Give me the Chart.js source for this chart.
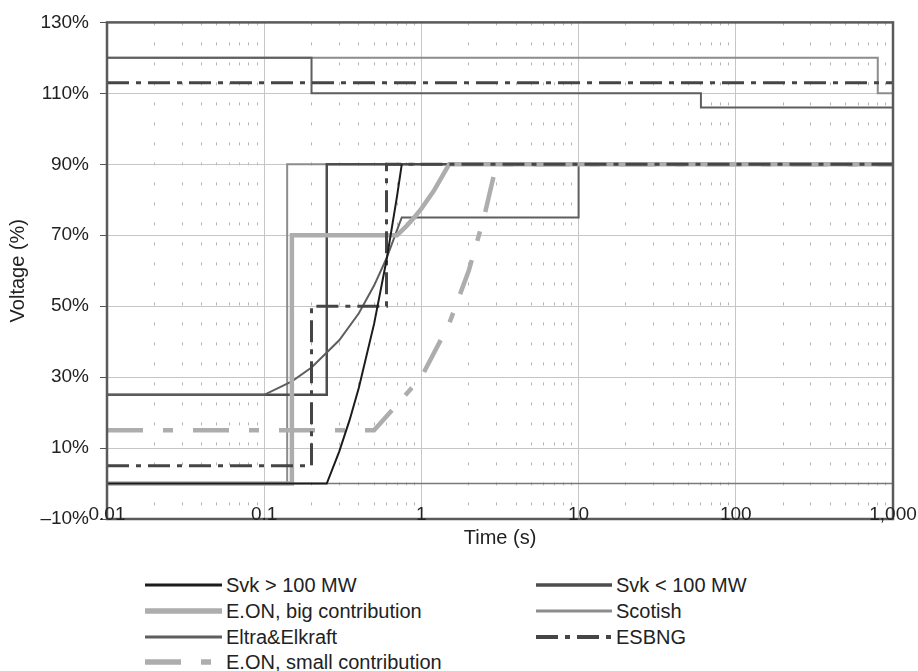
<!DOCTYPE html>
<html>
<head>
<meta charset="utf-8">
<script src="https://cdn.jsdelivr.net/npm/chart.js@4"></script>
<style>
  body { margin: 0; background: #fff; }
  #wrap { position: relative; width: 918px; height: 671px; font-family: "Liberation Sans", Arial, sans-serif; color: #222; }
  #chart { position: absolute; left: 0; top: 0; }
  .item { position: absolute; height: 24px; line-height: 24px; font-size: 20px; white-space: nowrap; }
  .item svg { position: absolute; top: 0; }
  .item span { position: absolute; top: 0; }
</style>
</head>
<body>
<div id="wrap">
  <canvas id="chart" width="918" height="560"></canvas>
  <div id="legend"></div>
</div>
<script>
// axis ticks
const decades = [0.01, 0.1, 1, 10, 100, 1000];
const decadeLabels = ["0.01", "0.1", "1", "10", "100", "1,000"];
const yTicks = [-10, 10, 30, 50, 70, 90, 110, 130];

// Svk > 100 MW
const svkHighT = [0.01, 0.25, 0.3, 0.35, 0.4, 0.5, 0.6, 0.7, 0.75];
const svkHighV = [0, 0, 9, 18, 27, 45, 63, 81, 90];

// Svk < 100 MW
const svkLowT = [0.01, 0.25, 0.25, 1000];
const svkLowV = [25, 25, 90, 90];

// E.ON, big contribution
const eonBigT = [0.01, 0.15, 0.15, 0.7, 0.8, 0.9, 1.0, 1.2, 1.5, 1000];
const eonBigV = [0, 0, 70, 70, 72.5, 75, 77.5, 82.5, 90, 90];

// Scotish
const scotLowT = [0.01, 0.14, 0.14, 1000];
const scotLowV = [0, 0, 90, 90];
const scotHighT = [0.01, 800, 800, 1000];
const scotHighV = [120, 120, 110, 110];

// Eltra&Elkraft
const eltraLowT = [0.01, 0.1, 0.15, 0.2, 0.3, 0.4, 0.5, 0.6, 0.75, 10, 10, 1000];
const eltraLowV = [25, 25, 28.8, 32.7, 40.4, 48, 55.8, 63.5, 75, 75, 90, 90];
const eltraHighT = [0.01, 0.2, 0.2, 60, 60, 1000];
const eltraHighV = [120, 120, 110, 110, 106, 106];

// ESBNG
const esbLowT = [0.01, 0.2, 0.2, 0.6, 0.6, 1000];
const esbLowV = [5, 5, 50, 50, 90, 90];
const esbHighT = [0.01, 1000];
const esbHighV = [113, 113];

// E.ON, small contribution
const eonSmallT = [0.01, 0.5, 1, 1.5, 2, 2.5, 3, 1000];
const eonSmallV = [15, 15, 30, 45, 60, 75, 90, 90];

const pts = (t, v) => t.map((x, i) => ({ x: x, y: v[i] }));

const styles = {
    svkHigh: { color: "#1c1c1c", width: 2, dash: [], order: 0 },
    esb: { color: "#454545", width: 3, dash: [22, 7, 5, 7], order: 1 },
    eonSmall: { color: "#adadad", width: 4.5, dash: [36, 20, 10, 20], order: 2 },
    eonBig: { color: "#adadad", width: 4.5, dash: [], order: 3 },
    eltra: { color: "#5e5e5e", width: 2, dash: [], order: 4 },
    svkLow: { color: "#4d4d4d", width: 2.5, dash: [], order: 5 },
    scot: { color: "#8c8c8c", width: 2, dash: [], order: 6 }
};

function ds(label, data, s) {
    return {
        label: label,
        data: data,
        borderColor: s.color,
        borderWidth: s.width,
        borderDash: s.dash,
        order: s.order,
        pointRadius: 0,
        tension: 0,
        fill: false
    };
}

const datasets = [
    ds("Svk > 100 MW", pts(svkHighT, svkHighV), styles.svkHigh),
    ds("Svk < 100 MW", pts(svkLowT, svkLowV), styles.svkLow),
    ds("E.ON, big contribution", pts(eonBigT, eonBigV), styles.eonBig),
    ds("Scotish", pts(scotLowT, scotLowV), styles.scot),
    ds("Scotish", pts(scotHighT, scotHighV), styles.scot),
    ds("Eltra&Elkraft", pts(eltraLowT, eltraLowV), styles.eltra),
    ds("Eltra&Elkraft", pts(eltraHighT, eltraHighV), styles.eltra),
    ds("ESBNG", pts(esbLowT, esbLowV), styles.esb),
    ds("ESBNG", pts(esbHighT, esbHighV), styles.esb),
    ds("E.ON, small contribution", pts(eonSmallT, eonSmallV), styles.eonSmall)
];

// x ticks: decades plus 2..9 minors
const xTicks = [];
decades.forEach((d, i) => {
    xTicks.push(d);
    if (i < decades.length - 1) {
        for (let k = 2; k <= 9; k++) xTicks.push(+(d * k).toPrecision(3));
    }
});
const isMajor = (v) => decades.some(d => Math.abs(d - v) < d * 1e-6);

// frame: zero line and box
const framePlugin = {
    id: "frame",
    beforeDatasetsDraw(chart) {
        const { ctx, chartArea: a, scales } = chart;
        const y0 = scales.y.getPixelForValue(0);
        ctx.save();
        ctx.strokeStyle = "#7a7a7a";
        ctx.lineWidth = 1.5;
        ctx.beginPath();
        ctx.moveTo(a.left, y0);
        ctx.lineTo(a.right, y0);
        ctx.stroke();
        ctx.restore();
    },
    afterDatasetsDraw(chart) {
        const { ctx, chartArea: a } = chart;
        ctx.save();
        ctx.strokeStyle = "#5a5a5a";
        ctx.lineWidth = 2.5;
        ctx.strokeRect(a.left, a.top, a.right - a.left, a.bottom - a.top);
        ctx.restore();
    }
};

const tickFont = { family: "'Liberation Sans', Arial, sans-serif", size: 19 };
const titleFont = { family: "'Liberation Sans', Arial, sans-serif", size: 20 };

new Chart(document.getElementById("chart").getContext("2d"), {
    type: "line",
    data: { datasets: datasets },
    plugins: [framePlugin],
    options: {
        responsive: false,
        animation: false,
        layout: { padding: { top: 16, right: 25, left: 0, bottom: 0 } },
        plugins: { legend: { display: false }, tooltip: { enabled: false } },
        scales: {
            x: {
                type: "logarithmic",
                min: 0.01,
                max: 1000,
                afterBuildTicks: (scale) => { scale.ticks = xTicks.map(v => ({ value: v, major: isMajor(v) })); },
                afterFit: (scale) => { scale.height = 41; },
                ticks: {
                    autoSkip: false,
                    maxRotation: 0,
                    mirror: true,
                    padding: -7,
                    z: 1,
                    color: "#222",
                    font: tickFont,
                    callback: (v) => {
                        const i = decades.findIndex(d => Math.abs(d - v) < d * 1e-6);
                        return i >= 0 ? decadeLabels[i] : "";
                    }
                },
                grid: {
                    drawTicks: false,
                    color: (c) => isMajor(c.tick.value) ? "#c6c6c6" : "#b4b4b4",
                    lineWidth: 1
                },
                border: {
                    display: false,
                    dash: (c) => isMajor(c.tick.value) ? [] : [3, 17]
                },
                title: {
                    display: true,
                    text: "Time (s)",
                    color: "#222",
                    font: titleFont,
                    padding: { top: 0, bottom: 10 }
                }
            },
            y: {
                min: -10,
                max: 130,
                afterBuildTicks: (scale) => { scale.ticks = yTicks.map(v => ({ value: v })); },
                afterFit: (scale) => { scale.width = 107; },
                ticks: {
                    padding: 11,
                    z: 1,
                    color: "#222",
                    font: tickFont,
                    callback: (v) => (v < 0 ? "\u2013" + Math.abs(v) : v) + "%"
                },
                grid: {
                    color: "#c6c6c6",
                    lineWidth: 1,
                    tickLength: 7,
                    tickColor: "#555"
                },
                border: { display: false },
                title: {
                    display: true,
                    text: "Voltage (%)",
                    color: "#222",
                    font: titleFont,
                    padding: { top: 6, bottom: 0 }
                }
            }
        }
    }
});

// legend, two columns filled row by row
const legendItems = [
    { label: "Svk > 100 MW", s: styles.svkHigh },
    { label: "Svk < 100 MW", s: styles.svkLow },
    { label: "E.ON, big contribution", s: styles.eonBig },
    { label: "Scotish", s: styles.scot },
    { label: "Eltra&Elkraft", s: styles.eltra },
    { label: "ESBNG", s: styles.esb },
    { label: "E.ON, small contribution", s: styles.eonSmall }
];
const rowY = [585, 611, 637, 662];
const colX = [145, 536];
const legendEl = document.getElementById("legend");
legendItems.forEach((it, i) => {
    const row = Math.floor(i / 2), col = i % 2;
    const div = document.createElement("div");
    div.className = "item";
    div.style.left = colX[col] + "px";
    div.style.top = (rowY[row] - 12) + "px";
    const w = col === 0 ? 77 : 76;
    const lw = it.s.width + 1;
    const dash = it.s.dash.length ? it.s.dash.join(" ") : "none";
    div.innerHTML =
        '<svg width="' + w + '" height="24"><line x1="0" y1="12" x2="' + w + '" y2="12" stroke="' + it.s.color +
        '" stroke-width="' + lw + '" stroke-dasharray="' + dash + '"/></svg>' +
        '<span style="left:' + (w + 4) + 'px">' + it.label + '</span>';
    legendEl.appendChild(div);
});
</script>
</body>
</html>
